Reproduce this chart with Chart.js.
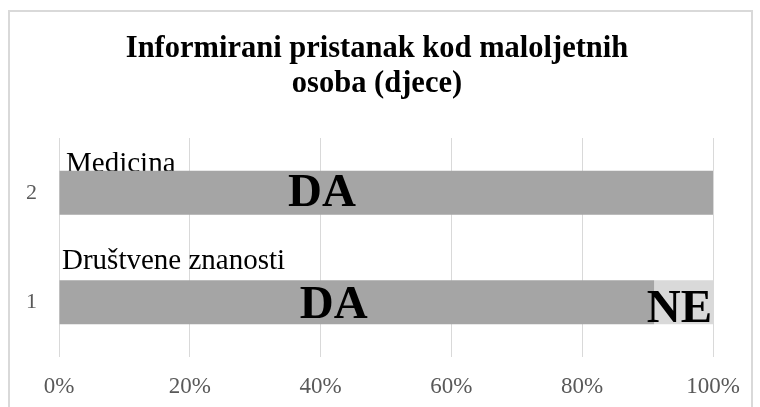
<!DOCTYPE html>
<html>
<head>
<meta charset="utf-8">
<script src="https://cdn.jsdelivr.net/npm/chart.js@4/dist/chart.umd.min.js"></script>
<style>
  html, body { margin: 0; padding: 0; background: #ffffff; }
  #wrap { position: relative; width: 760px; height: 407px; }
</style>
</head>
<body>
<div id="wrap"><canvas id="c"></canvas></div>
<script>
// ---- data ----
const titleLines = ['Informirani pristanak kod maloljetnih', 'osoba (djece)'];
const categories = ['2', '1'];
const groupNames = ['Medicina', 'Društvene znanosti'];
const seriesNames = ['DA', 'NE'];
const daValues = [100, 91];
const neValues = [0, 9];
const tickValues = [0, 20, 40, 60, 80, 100];

const SERIF = "'Liberation Serif', 'Times New Roman', serif";

const annotatePlugin = {
  id: 'annotate',
  beforeDraw(chart) {
    const ctx = chart.ctx;
    ctx.save();
    ctx.fillStyle = '#ffffff';
    ctx.fillRect(0, 0, chart.width, chart.height);
    ctx.strokeStyle = '#d9d9d9';
    ctx.lineWidth = 2;
    ctx.strokeRect(9, 11, 743, 420);
    // title
    ctx.font = 'bold 30.5px ' + SERIF;
    ctx.fillStyle = '#000000';
    ctx.textAlign = 'center';
    ctx.textBaseline = 'alphabetic';
    const baselines = [57, 92];
    titleLines.forEach((t, i) => ctx.fillText(t, 377, baselines[i]));
    ctx.restore();
  },
  beforeDatasetsDraw(chart) {
    // group names above bars (drawn beneath the bars)
    const ctx = chart.ctx;
    const y = chart.scales.y;
    ctx.save();
    ctx.font = '29px ' + SERIF;
    ctx.fillStyle = '#000000';
    ctx.textAlign = 'left';
    ctx.textBaseline = 'alphabetic';
    const offs = [{dx: 7, dy: -21}, {dx: 3, dy: -33}];
    groupNames.forEach((name, i) => {
      const cy = y.getPixelForValue(i);
      ctx.fillText(name, chart.chartArea.left + offs[i].dx, cy + offs[i].dy);
    });
    ctx.restore();
  },
  afterDatasetsDraw(chart) {
    const ctx = chart.ctx;
    const x = chart.scales.x;
    const y = chart.scales.y;
    ctx.save();
    ctx.font = 'bold 47px ' + SERIF;
    ctx.fillStyle = '#000000';
    ctx.textBaseline = 'alphabetic';
    const daAt = [40.2, 42];
    const daDy = [13, 16];
    daValues.forEach((v, i) => {
      ctx.textAlign = 'center';
      ctx.fillText(seriesNames[0], x.getPixelForValue(daAt[i]), y.getPixelForValue(i) + daDy[i]);
    });
    neValues.forEach((v, i) => {
      if (v > 0) {
        ctx.textAlign = 'right';
        ctx.fillText(seriesNames[1], x.getPixelForValue(daValues[i] + v) - 1, y.getPixelForValue(i) + 20);
      }
    });
    ctx.restore();
  }
};

new Chart(document.getElementById('c'), {
  type: 'bar',
  data: {
    labels: categories,
    datasets: [
      { label: seriesNames[0], data: daValues, backgroundColor: '#a5a5a5', categoryPercentage: 1.0, barPercentage: 0.4 },
      { label: seriesNames[1], data: neValues, backgroundColor: '#d9d9d9', categoryPercentage: 1.0, barPercentage: 0.4 }
    ]
  },
  options: {
    indexAxis: 'y',
    responsive: true,
    maintainAspectRatio: false,
    animation: false,
    layout: { padding: { left: 0, right: 47, top: 138, bottom: 0 } },
    plugins: {
      legend: { display: false },
      tooltip: { enabled: false },
      title: { display: false }
    },
    scales: {
      x: {
        stacked: true,
        min: 0,
        max: 100,
        afterBuildTicks(scale) { scale.ticks = tickValues.map(v => ({ value: v })); },
        afterFit(scale) { scale.height = 50; },
        border: { display: false },
        grid: { color: '#d9d9d9', lineWidth: 1, drawTicks: false },
        ticks: {
          padding: 16,
          color: '#595959',
          font: { family: SERIF, size: 23 },
          callback: v => v + '%'
        }
      },
      y: {
        stacked: true,
        afterFit(scale) { scale.width = 59; },
        border: { display: false },
        grid: { display: false, drawTicks: false },
        ticks: {
          padding: 22,
          color: '#595959',
          font: { family: SERIF, size: 22 }
        }
      }
    }
  },
  plugins: [annotatePlugin]
});
</script>
</body>
</html>
